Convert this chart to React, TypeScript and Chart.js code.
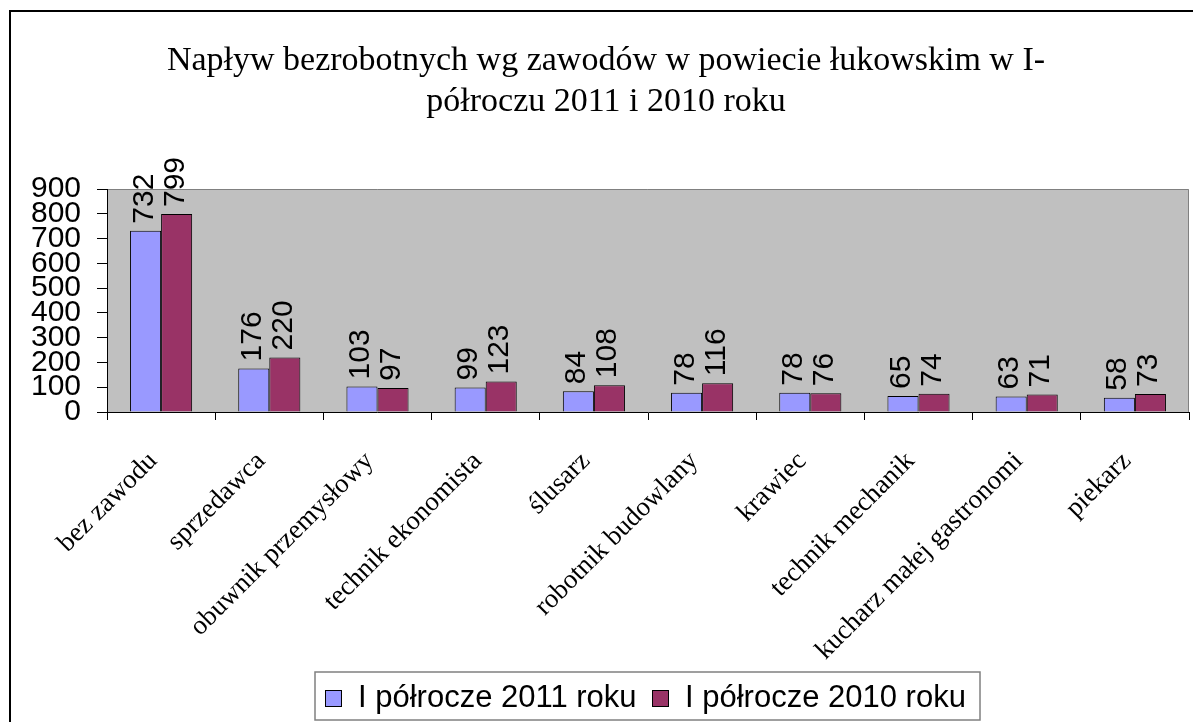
import React, { useEffect, useRef } from "react";
import { Chart, registerables } from "chart.js";

Chart.register(...registerables);

const categories = [
  "bez zawodu",
  "sprzedawca",
  "obuwnik przemysłowy",
  "technik ekonomista",
  "ślusarz",
  "robotnik budowlany",
  "krawiec",
  "technik mechanik",
  "kucharz małej gastronomi",
  "piekarz",
];
const series2011 = [732, 176, 103, 99, 84, 78, 78, 65, 63, 58];
const series2010 = [799, 220, 97, 123, 108, 116, 76, 74, 71, 73];
const seriesNames = ["I półrocze 2011 roku", "I półrocze 2010 roku"];
const titleLines = [
  "Napływ bezrobotnych wg zawodów w powiecie łukowskim w I-",
  "półroczu 2011 i 2010 roku",
];
const colors = ["#9999FF", "#993366"];

const W = 1193;
const H = 722;

const framePlugin = {
  id: "frame",
  beforeDraw(chart: any) {
    const { ctx, chartArea: a } = chart;
    ctx.save();
    ctx.fillStyle = "#ffffff";
    ctx.fillRect(0, 0, W, H);
    // outer chart border
    ctx.strokeStyle = "#000";
    ctx.lineWidth = 2;
    ctx.strokeRect(10, 11, 1400, 900);
    // plot area
    ctx.fillStyle = "#C0C0C0";
    ctx.fillRect(a.left, a.top, a.right - a.left, a.bottom - a.top);
    ctx.strokeStyle = "#808080";
    ctx.lineWidth = 1;
    ctx.beginPath();
    ctx.moveTo(a.left, a.top + 0.5);
    ctx.lineTo(a.right - 0.5, a.top + 0.5);
    ctx.lineTo(a.right - 0.5, a.bottom);
    ctx.stroke();
    // title
    ctx.fillStyle = "#000";
    ctx.font = "34px 'Liberation Serif'";
    ctx.textAlign = "center";
    ctx.textBaseline = "alphabetic";
    ctx.fillText(titleLines[0], 606, 70);
    ctx.fillText(titleLines[1], 606, 111);
    ctx.restore();
  },
  afterDraw(chart: any) {
    const { ctx } = chart;
    ctx.save();
    // category labels, rotated 45 degrees, end anchored at the category centre
    const xs = chart.scales.x;
    ctx.font = "27px 'Liberation Serif'";
    ctx.fillStyle = "#000";
    ctx.textAlign = "right";
    ctx.textBaseline = "alphabetic";
    categories.forEach((lab, i) => {
      const px = xs.getPixelForTick(i);
      ctx.save();
      ctx.translate(px - 3, xs.top + 50);
      ctx.rotate(-Math.PI / 4);
      ctx.fillText(lab, 0, 0);
      ctx.restore();
    });
    // legend box
    ctx.fillStyle = "#fff";
    ctx.fillRect(315, 672, 665, 48);
    ctx.strokeStyle = "#808080";
    ctx.lineWidth = 1.5;
    ctx.strokeRect(315, 672, 665, 48);
    const swX = [325, 652];
    const txX = [358, 685];
    ctx.font = "31px 'Liberation Sans'";
    ctx.textBaseline = "middle";
    ctx.textAlign = "left";
    for (let i = 0; i < 2; i++) {
      ctx.fillStyle = colors[i];
      ctx.fillRect(swX[i], 690, 16, 16);
      ctx.strokeStyle = "#000";
      ctx.lineWidth = 1;
      ctx.strokeRect(swX[i] + 0.5, 690.5, 16, 16);
      ctx.fillStyle = "#000";
      ctx.fillText(seriesNames[i], txX[i], 698);
    }
    ctx.restore();
  },
};

const valueLabelPlugin = {
  id: "valueLabels",
  afterDatasetsDraw(chart: any) {
    const { ctx } = chart;
    ctx.save();
    ctx.font = "30px 'Liberation Sans'";
    ctx.fillStyle = "#000";
    ctx.textAlign = "left";
    ctx.textBaseline = "alphabetic";
    chart.data.datasets.forEach((ds: any, di: number) => {
      const meta = chart.getDatasetMeta(di);
      meta.data.forEach((bar: any, i: number) => {
        ctx.save();
        ctx.translate(bar.x + 7, bar.y - 7);
        ctx.rotate(-Math.PI / 2);
        ctx.fillText(String(ds.data[i]), 0, 0);
        ctx.restore();
      });
    });
    ctx.restore();
  },
};

export default function App() {
  const ref = useRef<HTMLCanvasElement>(null);
  useEffect(() => {
    if (!ref.current) return;
    const chart = new Chart(ref.current, {
      type: "bar",
      data: {
        labels: categories,
        datasets: [
          {
            label: seriesNames[0],
            data: series2011,
            backgroundColor: colors[0],
            borderColor: "#000",
            borderWidth: 1,
          },
          {
            label: seriesNames[1],
            data: series2010,
            backgroundColor: colors[1],
            borderColor: "#000",
            borderWidth: 1,
          },
        ],
      },
      options: {
        responsive: false,
        animation: false,
        devicePixelRatio: 1,
        layout: { padding: { top: 189, right: 4, left: 0, bottom: 0 } },
        datasets: {
          bar: { categoryPercentage: 0.574, barPercentage: 1 },
        },
        plugins: {
          legend: { display: false },
          title: { display: false },
          tooltip: { enabled: false },
        },
        scales: {
          x: {
            offset: true,
            grid: {
              offset: true,
              drawOnChartArea: false,
              drawTicks: true,
              tickLength: 8,
              tickColor: "#000",
              color: "#000",
            },
            border: { display: true, color: "#000", width: 1 },
            ticks: {
              display: false,
              autoSkip: false,
            },
            afterFit: (s: any) => {
              s.height = 310;
              s.paddingLeft = 0;
              s.paddingRight = 0;
            },
          },
          y: {
            min: 0,
            max: 900,
            grid: {
              drawOnChartArea: false,
              drawTicks: true,
              tickLength: 10,
              tickColor: "#000",
            },
            border: { display: true, color: "#000", width: 1 },
            ticks: {
              stepSize: 100,
              autoSkip: false,
              color: "#000",
              padding: 16,
              font: { family: "'Liberation Sans'", size: 30 },
            },
            afterFit: (s: any) => {
              s.width = 107;
              s.paddingTop = 0;
              s.paddingBottom = 0;
            },
          },
        },
      },
      plugins: [framePlugin, valueLabelPlugin],
    });
    return () => chart.destroy();
  }, []);
  return (
    <div style={{ position: "absolute", left: 0, top: 0, width: W, height: H }}>
      <canvas ref={ref} width={W} height={H} />
    </div>
  );
}
